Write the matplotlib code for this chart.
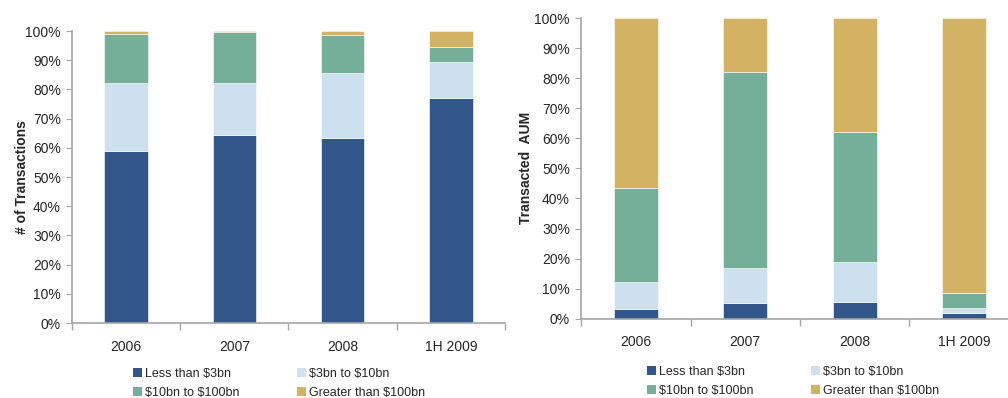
import numpy as np
import matplotlib.pyplot as plt
from matplotlib.patches import Patch

plt.rcParams['font.family'] = ['Liberation Sans', 'DejaVu Sans']
plt.rcParams['text.parse_math'] = False

periods = ["2006", "2007", "2008", "1H 2009"]
bands = ["Less than $3bn", "$3bn to $10bn", "$10bn to $100bn", "Greater than $100bn"]
colors = ["#31568A", "#CDE0F0", "#75AE99", "#D4B264"]

# share of number of transactions (%), by size band
tx_small = [58.8, 64.4, 63.4, 77.1]
tx_mid = [23.4, 17.8, 22.2, 12.3]
tx_large = [16.9, 17.3, 12.9, 5.1]
tx_huge = [0.9, 0.5, 1.5, 5.5]

# share of transacted AUM (%), by size band
aum_small = [3.2, 5.3, 5.7, 1.8]
aum_mid = [9.1, 11.7, 13.1, 1.8]
aum_large = [31.1, 65.1, 43.4, 4.9]
aum_huge = [56.6, 17.9, 37.8, 91.5]

TEXT = "#262626"
AXIS = "#A6A6A6"


def stacked(ax, series, ylabel, label_x, leg_anchor):
    x = np.arange(len(periods))
    bottom = np.zeros(len(periods))
    for vals, c in zip(series, colors):
        ax.bar(x, vals, width=0.4, bottom=bottom, color=c,
               edgecolor="white", linewidth=0.4, zorder=2)
        bottom += np.array(vals)

    ax.set_xlim(-0.5, len(periods) - 0.5)
    ax.set_ylim(0, 100)
    ax.set_yticks(np.arange(0, 101, 10))
    ax.set_yticklabels(["{}%".format(v) for v in range(0, 101, 10)])
    ax.set_xticks(x)
    ax.set_xticklabels(periods)
    ax.set_xticks(np.arange(-0.5, len(periods)), minor=True)

    for s in ["top", "right"]:
        ax.spines[s].set_visible(False)
    for s in ["left", "bottom"]:
        ax.spines[s].set_color(AXIS)
        ax.spines[s].set_linewidth(1.2)

    ax.tick_params(axis="y", length=4, color=AXIS, labelsize=10,
                   labelcolor=TEXT, pad=4)
    ax.tick_params(axis="x", which="major", length=0, labelsize=10,
                   labelcolor=TEXT, pad=12)
    ax.tick_params(axis="x", which="minor", length=5, color=AXIS, width=1)
    ax.set_ylabel(ylabel, fontsize=10, fontweight="bold", color=TEXT)
    ax.yaxis.set_label_coords(label_x, 0.5)

    # legend entries are filled column-wise, so interleave to get two rows
    handles = [Patch(facecolor=c, edgecolor="none") for c in colors]
    order = [0, 2, 1, 3]
    ax.legend([handles[i] for i in order], [bands[i] for i in order],
              ncol=2, frameon=False, fontsize=9, loc="upper left",
              bbox_to_anchor=leg_anchor, handlelength=0.7, handleheight=0.7,
              handletextpad=0.25, columnspacing=4.6, labelspacing=0.55,
              labelcolor=TEXT, borderaxespad=0)


fig = plt.figure(figsize=(10.08, 3.98), dpi=100)
ax1 = fig.add_axes([0.0714, 0.1884, 0.4296, 0.7337])
ax2 = fig.add_axes([0.5764, 0.1992, 0.4345, 0.7555])

stacked(ax1, [tx_small, tx_mid, tx_large, tx_huge], "# of Transactions",
        -0.099, (0.13, -0.137))
stacked(ax2, [aum_small, aum_mid, aum_large, aum_huge], "Transacted  AUM",
        -0.109, (0.14, -0.14))

fig.savefig("out.png", dpi=100)
